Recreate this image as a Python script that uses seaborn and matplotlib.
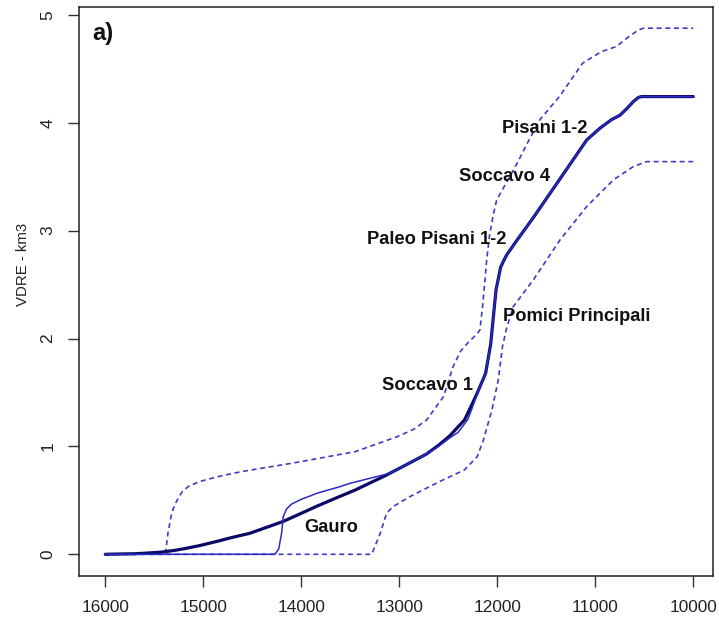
import matplotlib
matplotlib.use("Agg")
import matplotlib.pyplot as plt
import seaborn as sns
import pandas as pd

# ---- data (years BP, VDRE km3) ----
mean_x = [16000, 15900, 15700, 15600, 15431, 15300, 15172, 15050, 14950, 14850, 14742,
          14650, 14524, 14400, 14184, 14000, 13843, 13650, 13452, 13163, 12950,
          12721, 12600, 12483, 12335, 12300, 12205, 12119, 12067, 12013, 11966, 11930,
          11904, 11800, 11633, 11360, 11088, 10952, 10833, 10748, 10680, 10612, 10560,
          10527, 10000]
mean_y = [0.0, 0.002, 0.005, 0.01, 0.02, 0.035, 0.056, 0.078, 0.10, 0.122, 0.148,
          0.168, 0.195, 0.235, 0.305, 0.38, 0.445, 0.52, 0.595, 0.72, 0.82,
          0.93, 1.01, 1.10, 1.245, 1.31, 1.493, 1.678, 1.95, 2.45, 2.66, 2.73,
          2.775, 2.91, 3.12, 3.48, 3.84, 3.95, 4.03, 4.07, 4.13, 4.196, 4.235,
          4.243, 4.243]

thin_x = [16000, 14268, 14230, 14200, 14184, 14150, 14100, 14000, 13911, 13843, 13605,
          13503, 13231, 13100, 12950, 12721, 12600, 12483, 12400, 12300, 12226, 12150,
          12119, 12067, 12013, 11966, 11930, 11904, 11800, 11633, 11360, 11088, 10952,
          10833, 10748, 10680, 10612, 10560, 10527, 10000]
thin_y = [0.0, 0.0, 0.05, 0.20, 0.35, 0.42, 0.465, 0.51, 0.54, 0.565, 0.627,
          0.658, 0.72, 0.75, 0.82, 0.93, 1.00, 1.08, 1.13, 1.25, 1.43, 1.62,
          1.678, 1.95, 2.45, 2.66, 2.73, 2.775, 2.91, 3.12, 3.48, 3.84, 3.95,
          4.03, 4.07, 4.13, 4.196, 4.235, 4.243, 4.243]

upper_x = [16000, 15387, 15360, 15323, 15290, 15250, 15215, 15150, 15043, 14850, 14613,
           14097, 13452, 13022, 12850, 12721, 12549, 12450, 12378, 12300, 12200, 12177,
           12150, 12125, 12108, 12080, 12040, 12006, 11904, 11800, 11700, 11564, 11360,
           11130, 10937, 10786, 10657, 10560, 10507, 10000]
upper_y = [0.0, 0.0, 0.2, 0.38, 0.46, 0.53, 0.58, 0.63, 0.673, 0.72, 0.766,
           0.844, 0.951, 1.09, 1.16, 1.245, 1.461, 1.74, 1.878, 1.96, 2.05, 2.08,
           2.30, 2.55, 2.73, 2.95, 3.15, 3.285, 3.45, 3.62, 3.80, 4.03, 4.25,
           4.552, 4.66, 4.706, 4.799, 4.86, 4.877, 4.877]

lower_x = [16000, 13281, 13194, 13130, 13065, 12893, 12592, 12335, 12205, 12141, 12055,
           11990, 11947, 11904, 11837, 11633, 11360, 11088, 10816, 10612, 10476, 10000]
lower_y = [0.0, 0.0, 0.195, 0.38, 0.441, 0.534, 0.673, 0.782, 0.905, 1.06, 1.338,
           1.616, 1.925, 2.10, 2.296, 2.543, 2.914, 3.223, 3.47, 3.594, 3.64, 3.64]

x_ticks = [16000, 15000, 14000, 13000, 12000, 11000, 10000]
y_ticks = [0, 1, 2, 3, 4, 5]

eruption_labels = ["Pisani 1-2", "Soccavo 4", "Paleo Pisani 1-2", "Pomici Principali",
                   "Soccavo 1", "Gauro"]
label_x = [11517, 11924, 12622, 11190, 12717, 13697]
label_y = [3.964, 3.517, 2.93, 2.219, 1.579, 0.265]

# ---- style ----
sns.set_theme(style="ticks")
plt.rcParams["font.family"] = ["Liberation Sans", "DejaVu Sans"]

fig = plt.figure(figsize=(7.19, 6.20), dpi=100)
ax = fig.add_axes([0.1099, 0.0710, 0.8813, 0.9173])

dash_col = "#3c3cc4"
thin_col = "#2a2ac4"
thick_col = "#0a0a66"

sns.lineplot(data=pd.DataFrame({"x": upper_x, "y": upper_y}), x="x", y="y", ax=ax,
             sort=False, estimator=None, color=dash_col, linewidth=1.2,
             linestyle=(0, (3, 2.2)))
sns.lineplot(data=pd.DataFrame({"x": lower_x, "y": lower_y}), x="x", y="y", ax=ax,
             sort=False, estimator=None, color=dash_col, linewidth=1.2,
             linestyle=(0, (3, 2.2)))
sns.lineplot(data=pd.DataFrame({"x": mean_x, "y": mean_y}), x="x", y="y", ax=ax,
             sort=False, estimator=None, color=thick_col, linewidth=2.3)
sns.lineplot(data=pd.DataFrame({"x": thin_x, "y": thin_y}), x="x", y="y", ax=ax,
             sort=False, estimator=None, color=thin_col, linewidth=1.1)

ax.set_xlim(16268, 9802)
ax.set_ylim(-0.201, 5.071)
ax.set_xticks(x_ticks)
ax.set_yticks(y_ticks)
ax.set_xticklabels([str(v) for v in x_ticks])
ax.set_yticklabels([str(v) for v in y_ticks])

for s in ax.spines.values():
    s.set_visible(True)
    s.set_color("#222222")
    s.set_linewidth(1.1)

ax.tick_params(axis="both", direction="out", length=8, width=1.0, color="#333333",
               labelsize=12.4, labelcolor="#222222")
ax.tick_params(axis="x", pad=9)
ax.tick_params(axis="y", pad=9)
for t in ax.get_yticklabels():
    t.set_rotation(90)
    t.set_va("center")

ax.set_xlabel("")
ax.set_ylabel("VDRE - km3", fontsize=10.8, color="#222222", va="center")
ax.yaxis.set_label_coords(-0.0884, 0.547)

for lab, lx, ly in zip(eruption_labels, label_x, label_y):
    ax.text(lx, ly - 0.015, lab, ha="center", va="center", fontsize=13.2,
            fontweight="bold", color="#111111")

ax.text(16021, 4.83, "a)", ha="center", va="center", fontsize=17,
        fontweight="bold", color="#111111")

fig.savefig("out.png", dpi=100)
